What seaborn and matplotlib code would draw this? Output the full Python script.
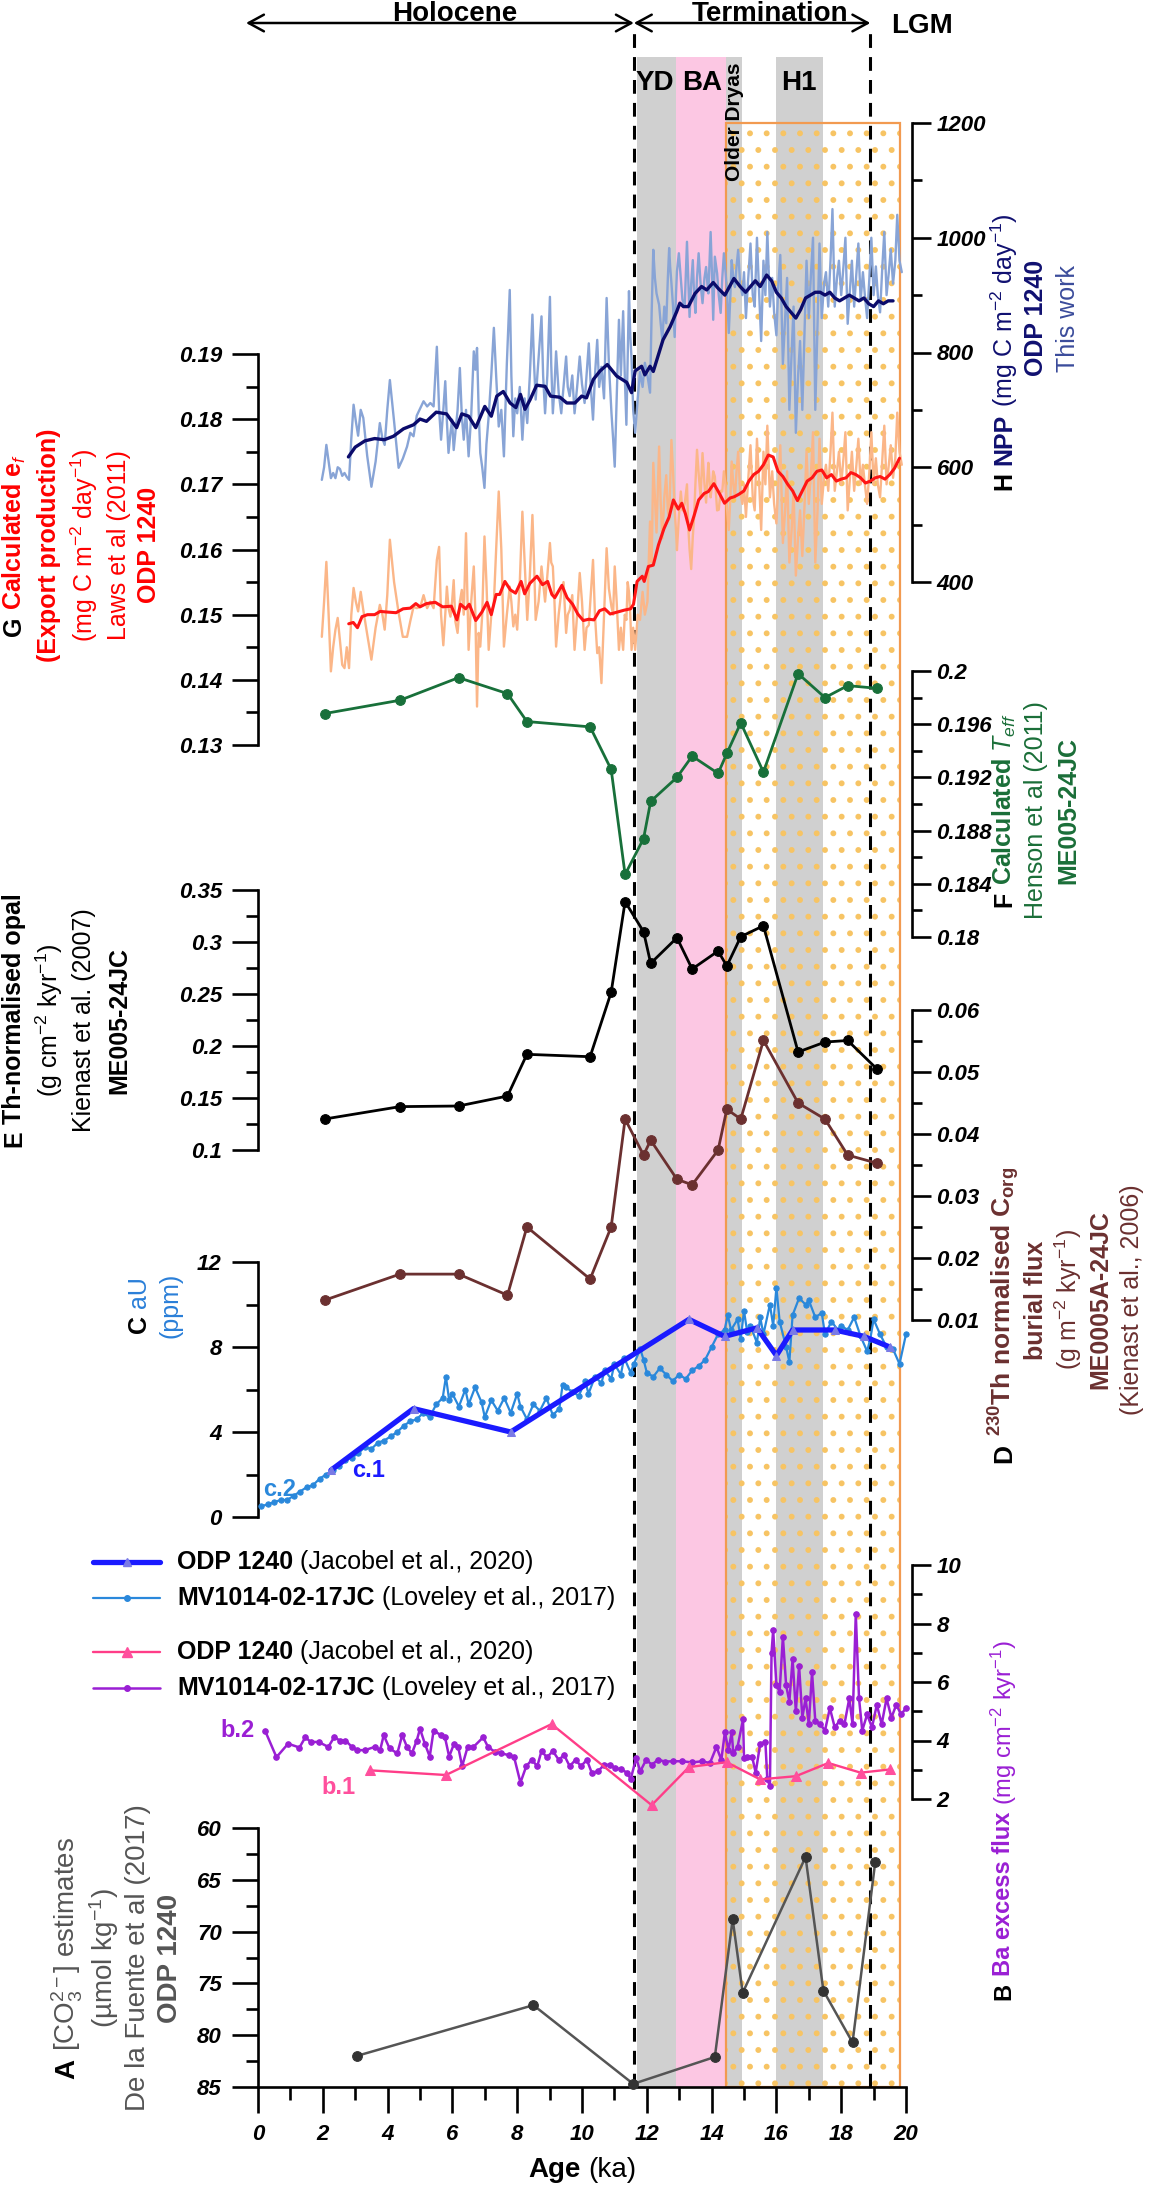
import matplotlib
matplotlib.use('Agg')
import matplotlib.pyplot as plt
import seaborn as sns
import numpy as np
from matplotlib.patches import Rectangle
from matplotlib.lines import Line2D

# ---------------- data ----------------
# H  NPP raw (light blue) and G ef raw (orange), same sample ages
raw_age = [1.97, 2.04, 2.11, 2.18, 2.25, 2.32, 2.39, 2.46, 2.53, 2.6,
           2.67, 2.74, 2.81, 2.88, 2.95, 3.02, 3.09, 3.17, 3.25, 3.37,
           3.5, 3.63, 3.76, 3.84, 3.91, 3.99, 4.07, 4.2, 4.34, 4.47,
           4.6, 4.7, 4.8, 4.9, 5.01, 5.11, 5.22, 5.32, 5.42, 5.52,
           5.59, 5.65, 5.72, 5.78, 5.83, 5.88, 5.94, 5.99, 6.04, 6.09,
           6.16, 6.23, 6.29, 6.35, 6.42, 6.5, 6.58, 6.66, 6.71, 6.76,
           6.81, 6.86, 6.92, 6.99, 7.05, 7.12, 7.2, 7.28, 7.35, 7.43,
           7.51, 7.59, 7.68, 7.77, 7.82, 7.88, 7.94, 8.0, 8.08, 8.16,
           8.23, 8.31, 8.39, 8.47, 8.52, 8.57, 8.66, 8.75, 8.8, 8.86,
           8.93, 9.01, 9.05, 9.1, 9.15, 9.2, 9.28, 9.36, 9.43, 9.51,
           9.56, 9.62, 9.7, 9.77, 9.85, 9.93, 10.0, 10.08, 10.14, 10.21,
           10.27, 10.34, 10.4, 10.47, 10.53, 10.6, 10.68, 10.76, 10.83, 10.91,
           10.96, 11.01, 11.07, 11.14, 11.2, 11.27, 11.32, 11.37, 11.41, 11.45,
           11.49, 11.53, 11.58, 11.64, 11.72, 11.79, 11.87, 11.94, 12.02, 12.1,
           12.15, 12.2, 12.25, 12.3, 12.38, 12.43, 12.48, 12.54, 12.6, 12.65,
           12.69, 12.72, 12.76, 12.81, 12.86, 12.9, 12.93, 12.99, 13.05, 13.1,
           13.17, 13.24, 13.28, 13.32, 13.37, 13.42, 13.46, 13.5, 13.55, 13.6,
           13.66, 13.72, 13.78, 13.83, 13.87, 13.9, 13.97, 14.01, 14.05, 14.1,
           14.17, 14.22, 14.28, 14.33, 14.38, 14.43, 14.48, 14.53, 14.58, 14.62,
           14.67, 14.72, 14.77, 14.82, 14.88, 14.95, 15.0, 15.06, 15.12, 15.2,
           15.27, 15.33, 15.4, 15.47, 15.53, 15.6, 15.66, 15.72, 15.8, 15.87,
           15.93, 16.0, 16.06, 16.12, 16.2, 16.27, 16.33, 16.4, 16.47, 16.53,
           16.6, 16.67, 16.73, 16.8, 16.87, 16.93, 17.0, 17.07, 17.13, 17.2,
           17.27, 17.33, 17.4, 17.47, 17.53, 17.6, 17.67, 17.73, 17.8, 17.87,
           17.93, 18.0, 18.07, 18.13, 18.2, 18.27, 18.33, 18.4, 18.47, 18.53,
           18.6, 18.67, 18.73, 18.8, 18.87, 18.93, 19.0, 19.07, 19.13, 19.2,
           19.27, 19.33, 19.4, 19.47, 19.53, 19.6, 19.67, 19.73, 19.8, 19.87]
npp_raw = [578, 600, 639, 610, 581, 590, 581, 600, 597, 585,
           590, 583, 578, 650, 709, 680, 655, 700, 686, 620,
           566, 610, 677, 650, 639, 700, 752, 680, 599, 615,
           636, 660, 654, 690, 703, 715, 706, 712, 706, 810,
           700, 648, 700, 750, 680, 625, 660, 683, 630, 660,
           700, 773, 690, 648, 700, 619, 690, 802, 770, 808,
           700, 625, 600, 564, 640, 689, 760, 843, 760, 671,
           700, 619, 780, 909, 760, 654, 720, 694, 740, 648,
           720, 677, 760, 866, 780, 718, 790, 863, 760, 694,
           760, 897, 780, 694, 740, 802, 730, 694, 740, 793,
           740, 724, 760, 694, 740, 793, 745, 712, 760, 816,
           740, 683, 760, 822, 740, 775, 720, 895, 780, 694,
           650, 601, 720, 857, 760, 872, 760, 674, 790, 907,
           830, 787, 700, 660, 720, 766, 740, 782, 760, 730,
           870, 979, 930, 903, 883, 850, 822, 880, 851, 930,
           982, 950, 921, 880, 827, 900, 941, 973, 930, 892,
           880, 993, 930, 862, 920, 961, 900, 869, 930, 973,
           920, 886, 930, 949, 920, 903, 1010, 940, 857, 967,
           938, 900, 869, 930, 973, 940, 903, 834, 900, 961,
           930, 914, 950, 979, 920, 900, 940, 860, 920, 990,
           900, 880, 1000, 900, 820, 960, 900, 1010, 880, 930,
           870, 830, 920, 970, 780, 860, 930, 700, 800, 880,
           660, 760, 820, 700, 840, 960, 860, 940, 1000, 700,
           850, 990, 860, 920, 940, 880, 960, 1050, 880, 930,
           960, 900, 950, 1000, 850, 910, 960, 880, 940, 990,
           890, 940, 900, 860, 930, 1000, 900, 950, 900, 870,
           950, 1010, 900, 940, 980, 920, 960, 1040, 960, 940]
ef_raw = [0.1466, 0.152, 0.1581, 0.150, 0.1413, 0.145, 0.1477, 0.1495, 0.146, 0.1423,
          0.1418, 0.145, 0.1418, 0.150, 0.1541, 0.152, 0.1505, 0.1535, 0.1507, 0.147,
          0.1431, 0.148, 0.1515, 0.150, 0.1477, 0.153, 0.1615, 0.155, 0.1503, 0.1466,
          0.1466, 0.149, 0.1512, 0.151, 0.1512, 0.153, 0.151, 0.152, 0.151, 0.1584,
          0.1604, 0.150, 0.1453, 0.150, 0.1543, 0.151, 0.1497, 0.152, 0.1553, 0.149,
          0.1472, 0.152, 0.1538, 0.150, 0.1625, 0.1446, 0.152, 0.1574, 0.150, 0.1359,
          0.1472, 0.1451, 0.150, 0.162, 0.155, 0.1446, 0.150, 0.1518, 0.160, 0.1689,
          0.160, 0.1451, 0.150, 0.1543, 0.152, 0.1482, 0.150, 0.1477, 0.155, 0.1658,
          0.158, 0.1492, 0.156, 0.1653, 0.158, 0.1492, 0.152, 0.1574, 0.155, 0.152,
          0.156, 0.161, 0.158, 0.1574, 0.152, 0.1451, 0.150, 0.1535, 0.155, 0.1472,
          0.150, 0.1507, 0.153, 0.1446, 0.150, 0.1564, 0.152, 0.1446, 0.148, 0.1484,
          0.153, 0.1584, 0.150, 0.1441, 0.145, 0.1395, 0.150, 0.1602, 0.154, 0.1512,
          0.150, 0.1574, 0.152, 0.1446, 0.148, 0.1446, 0.150, 0.1492, 0.155, 0.1535,
          0.150, 0.1446, 0.148, 0.1446, 0.150, 0.1492, 0.1535, 0.150, 0.152, 0.1643,
          0.158, 0.1733, 0.168, 0.1626, 0.1758, 0.167, 0.1617, 0.168, 0.1714, 0.166,
          0.1646, 0.170, 0.1768, 0.172, 0.1661, 0.163, 0.1599, 0.165, 0.1689, 0.166,
          0.167, 0.170, 0.1635, 0.160, 0.157, 0.162, 0.165, 0.170, 0.1753, 0.1717,
          0.168, 0.1748, 0.170, 0.1672, 0.171, 0.1733, 0.168, 0.1698, 0.172, 0.1712,
          0.166, 0.1661, 0.169, 0.1689, 0.172, 0.170, 0.166, 0.163, 0.168, 0.1735,
          0.170, 0.168, 0.172, 0.175, 0.169, 0.167, 0.170, 0.165, 0.170, 0.176,
          0.168, 0.166, 0.177, 0.170, 0.163, 0.175, 0.170, 0.179, 0.168, 0.172,
          0.167, 0.164, 0.170, 0.176, 0.161, 0.166, 0.172, 0.158, 0.163, 0.169,
          0.156, 0.162, 0.166, 0.159, 0.167, 0.175, 0.167, 0.172, 0.178, 0.158,
          0.166, 0.177, 0.167, 0.171, 0.173, 0.169, 0.175, 0.181, 0.169, 0.172,
          0.175, 0.170, 0.174, 0.178, 0.166, 0.171, 0.175, 0.169, 0.173, 0.177,
          0.170, 0.173, 0.170, 0.167, 0.172, 0.178, 0.170, 0.174, 0.170, 0.168,
          0.174, 0.179, 0.170, 0.173, 0.176, 0.171, 0.174, 0.181, 0.175, 0.173]

npp_smooth_age = [2.79, 3.0, 3.3, 3.6, 3.9, 4.18, 4.49, 4.8, 5.0, 5.2,
                  5.5, 5.82, 6.13, 6.29, 6.5, 6.72, 7.0, 7.2, 7.37, 7.57,
                  7.78, 7.96, 8.1, 8.24, 8.4, 8.6, 8.86, 9.03, 9.32, 9.53,
                  9.78, 9.99, 10.14, 10.35, 10.56, 10.78, 11.07, 11.38, 11.53, 11.64,
                  11.84, 11.94, 12.1, 12.2, 12.5, 12.72, 12.92, 13.02, 13.13, 13.28,
                  13.49, 13.69, 13.85, 14.05, 14.2, 14.41, 14.69, 14.88, 15.05, 15.2,
                  15.35, 15.5, 15.7, 15.85, 16.0, 16.15, 16.3, 16.45, 16.6, 16.75,
                  16.9, 17.05, 17.2, 17.35, 17.5, 17.65, 17.8, 17.95, 18.1, 18.25,
                  18.4, 18.55, 18.7, 18.85, 19.0, 19.15, 19.3, 19.45, 19.6]
npp_smooth = [618, 635, 646, 650, 648, 654, 667, 674, 684, 680,
              696, 693, 669, 693, 689, 669, 706, 689, 724, 732,
              712, 704, 727, 701, 718, 743, 741, 724, 722, 712,
              712, 724, 721, 753, 768, 779, 759, 748, 730, 768,
              776, 761, 776, 767, 822, 845, 871, 886, 880, 880,
              903, 915, 909, 922, 912, 900, 929, 915, 905, 915,
              925, 915, 935, 925, 905, 895, 880, 870, 860, 875,
              895, 900, 905, 905, 900, 905, 895, 890, 895, 900,
              895, 890, 895, 885, 880, 890, 885, 890, 890]

ef_smooth_age = [2.8, 2.94, 3.07, 3.21, 3.38, 3.6, 3.77, 3.99, 4.26, 4.48,
                 4.7, 4.87, 5.0, 5.2, 5.47, 5.7, 5.97, 6.14, 6.25, 6.41,
                 6.52, 6.72, 6.91, 7.07, 7.2, 7.35, 7.46, 7.62, 7.79, 7.95,
                 8.12, 8.23, 8.39, 8.61, 8.78, 8.94, 9.07, 9.16, 9.38, 9.54,
                 9.71, 9.87, 10.04, 10.21, 10.37, 10.54, 10.7, 10.87, 11.09, 11.31,
                 11.5, 11.59, 11.7, 11.86, 11.92, 12.05, 12.2, 12.36, 12.53, 12.69,
                 12.82, 12.97, 13.08, 13.19, 13.32, 13.46, 13.6, 13.77, 13.9, 14.07,
                 14.24, 14.4, 14.57, 14.7, 14.85, 15.0, 15.15, 15.3, 15.45, 15.6,
                 15.75, 15.9, 16.05, 16.2, 16.35, 16.5, 16.65, 16.8, 16.95, 17.1,
                 17.25, 17.4, 17.55, 17.7, 17.85, 18.0, 18.15, 18.3, 18.45, 18.6,
                 18.75, 18.9, 19.05, 19.2, 19.35, 19.5, 19.65, 19.8]
ef_smooth = [0.1486, 0.1488, 0.1480, 0.1497, 0.1500, 0.1500, 0.1505, 0.1504, 0.1503, 0.1509,
             0.1510, 0.1517, 0.1512, 0.1517, 0.1519, 0.1512, 0.1513, 0.1492, 0.1516, 0.1509,
             0.1516, 0.1491, 0.1504, 0.1519, 0.1500, 0.1531, 0.1531, 0.1551, 0.1538, 0.1533,
             0.1551, 0.1532, 0.1548, 0.1559, 0.1546, 0.1551, 0.1531, 0.1526, 0.1545, 0.1526,
             0.1516, 0.1501, 0.1491, 0.1493, 0.1492, 0.1506, 0.1509, 0.1501, 0.1504, 0.1507,
             0.1509, 0.1516, 0.1551, 0.1559, 0.1551, 0.1574, 0.1576, 0.1607, 0.1632, 0.1650,
             0.1676, 0.1662, 0.1671, 0.1655, 0.1630, 0.1652, 0.1676, 0.1686, 0.1689, 0.1701,
             0.1686, 0.1671, 0.1679, 0.1681, 0.1685, 0.1690, 0.1705, 0.1715, 0.1720, 0.1730,
             0.1745, 0.1742, 0.1720, 0.1712, 0.1700, 0.1690, 0.1675, 0.1690, 0.1705, 0.1710,
             0.1720, 0.1722, 0.1710, 0.1715, 0.1705, 0.1708, 0.1710, 0.1718, 0.1715, 0.1710,
             0.1702, 0.1705, 0.1710, 0.1712, 0.1708, 0.1715, 0.1725, 0.1740]

# ME005-24JC / ME0005A-24JC (F, E, D)
me_age = [2.06, 4.38, 6.19, 7.7, 8.3, 10.25, 10.9, 11.33, 11.9, 12.12,
          12.93, 13.4, 14.2, 14.47, 14.9, 15.6, 16.67, 17.5, 18.2, 19.1]
teff = [0.1968, 0.1978, 0.1995, 0.1983, 0.1962, 0.1958, 0.1926, 0.1847, 0.1874, 0.1902,
        0.1920, 0.1936, 0.1923, 0.1938, 0.1961, 0.1924, 0.1998, 0.1980, 0.1989, 0.1987]
opal = [0.1298, 0.1417, 0.1423, 0.1519, 0.1920, 0.1897, 0.2516, 0.3388, 0.3099, 0.2795,
        0.3041, 0.2740, 0.2913, 0.2769, 0.3051, 0.3156, 0.1942, 0.2038, 0.2053, 0.1780]
corg = [0.0132, 0.0174, 0.0174, 0.0140, 0.0250, 0.0166, 0.0250, 0.0424, 0.0366, 0.0390,
        0.0327, 0.0318, 0.0374, 0.0440, 0.0424, 0.0551, 0.0450, 0.0424, 0.0366, 0.0353]

# C  authigenic U
au_odp_age = [2.25, 4.8, 7.8, 13.3, 14.4, 15.4, 16.0, 16.5, 17.8, 18.7, 19.5]
au_odp = [2.2, 5.1, 4.0, 9.3, 8.5, 8.9, 7.6, 8.8, 8.8, 8.5, 8.0]
au_mv_age = [0.1, 0.3, 0.5, 0.7, 0.9, 1.1, 1.3, 1.5, 1.7, 1.9,
             2.1, 2.3, 2.5, 2.7, 2.9, 3.1, 3.3, 3.5, 3.7, 3.9,
             4.1, 4.3, 4.5, 4.7, 4.9, 5.1, 5.3, 5.5, 5.7, 5.8,
             5.9, 6.0, 6.2, 6.4, 6.5, 6.7, 6.9, 7.0, 7.2, 7.4,
             7.6, 7.8, 8.0, 8.1, 8.3, 8.5, 8.7, 8.9, 9.1, 9.3,
             9.4, 9.5, 9.7, 9.9, 10.1, 10.2, 10.4, 10.6, 10.7, 10.9,
             11.0, 11.2, 11.3, 11.5, 11.6, 11.8, 11.9, 12.0, 12.2, 12.4,
             12.6, 12.8, 13.0, 13.2, 13.4, 13.6, 13.8, 14.0, 14.2, 14.4,
             14.5, 14.6, 14.8, 14.9, 15.0, 15.1, 15.2, 15.4, 15.5, 15.6,
             15.8, 15.9, 16.0, 16.1, 16.3, 16.4, 16.5, 16.7, 16.9, 17.0,
             17.2, 17.4, 17.5, 17.7, 17.9, 18.0, 18.2, 18.4, 18.6, 18.8,
             18.9, 19.0, 19.2, 19.4, 19.6, 19.8, 20.0]
au_mv = [0.5, 0.6, 0.7, 0.8, 0.8, 1.0, 1.2, 1.4, 1.5, 1.8,
         2.0, 2.2, 2.4, 2.7, 2.8, 3.0, 3.3, 3.2, 3.5, 3.6,
         3.8, 4.0, 4.3, 4.5, 4.6, 4.9, 4.7, 5.3, 5.6, 6.6,
         5.5, 5.8, 5.2, 6.0, 5.3, 6.1, 5.4, 4.7, 5.5, 5.0,
         5.6, 4.9, 5.8, 5.2, 4.6, 5.3, 5.0, 5.6, 4.8, 5.1,
         6.2, 6.1, 5.9, 5.7, 6.4, 5.8, 6.6, 6.3, 6.9, 6.5,
         7.2, 6.7, 7.5, 6.8, 7.2, 7.9, 7.4, 6.8, 6.6, 7.0,
         6.7, 6.4, 6.7, 6.5, 6.9, 7.1, 7.4, 8.0, 8.6, 8.8,
         9.5, 8.8, 9.3, 8.4, 9.7, 8.7, 9.0, 8.2, 9.4, 8.6,
         10.0, 9.0, 10.8, 9.2, 8.0, 7.3, 9.5, 10.3, 10.0, 10.2,
         9.4, 9.6, 8.6, 9.2, 8.8, 9.0, 8.8, 9.4, 8.5, 7.8,
         8.4, 9.3, 8.6, 8.0, 7.9, 7.2, 8.6]

# B  Ba excess flux
ba_odp_age = [3.46, 5.8, 9.06, 12.15, 13.3, 14.46, 15.5, 16.6, 17.6, 18.6, 19.5]
ba_odp = [2.98, 2.82, 4.56, 1.79, 3.09, 3.26, 2.67, 2.78, 3.23, 2.9, 3.01]
ba_mv_age = [0.22, 0.57, 0.93, 1.28, 1.46, 1.63, 1.87, 2.17, 2.35, 2.53,
             2.7, 2.9, 3.07, 3.3, 3.6, 3.77, 3.88, 4.06, 4.3, 4.45,
             4.6, 4.75, 4.9, 5.0, 5.15, 5.3, 5.42, 5.65, 5.77, 5.9,
             6.05, 6.18, 6.3, 6.47, 6.65, 6.95, 7.1, 7.3, 7.5, 7.75,
             7.9, 8.1, 8.28, 8.45, 8.62, 8.75, 8.92, 9.1, 9.28, 9.45,
             9.62, 9.8, 9.97, 10.15, 10.3, 10.5, 10.68, 10.85, 11.03, 11.2,
             11.4, 11.5, 11.67, 11.8, 11.98, 12.16, 12.34, 12.57, 12.8, 13.1,
             13.4, 13.7, 13.95, 14.15, 14.3, 14.41, 14.52, 14.62, 14.67, 14.8,
             14.97, 15.0, 15.1, 15.25, 15.36, 15.5, 15.66, 15.72, 15.8, 15.85,
             15.9, 16.0, 16.1, 16.2, 16.3, 16.4, 16.5, 16.6, 16.7, 16.8,
             16.9, 17.0, 17.1, 17.2, 17.35, 17.5, 17.65, 17.8, 17.95, 18.1,
             18.25, 18.35, 18.45, 18.55, 18.65, 18.8, 18.95, 19.1, 19.25, 19.4,
             19.55, 19.7, 19.85, 20.0]
ba_mv = [4.33, 3.43, 3.89, 3.76, 4.11, 3.95, 3.95, 3.78, 4.11, 4.0,
         4.0, 3.78, 3.67, 3.67, 3.78, 3.67, 4.18, 3.73, 3.56, 4.18,
         3.78, 3.56, 4.0, 4.40, 3.89, 3.45, 4.34, 4.18, 4.11, 3.45,
         3.89, 3.78, 3.12, 3.78, 3.78, 4.11, 3.78, 3.62, 3.56, 3.50,
         3.45, 2.56, 3.12, 3.34, 3.12, 3.64, 3.42, 3.64, 3.34, 3.50,
         3.12, 3.34, 3.12, 3.34, 2.90, 2.95, 3.17, 3.17, 3.06, 3.01,
         2.90, 2.67, 3.39, 2.95, 3.34, 3.17, 3.34, 3.28, 3.29, 3.29,
         3.25, 3.29, 3.23, 3.78, 3.34, 4.28, 3.67, 4.28, 3.56, 3.78,
         4.72, 3.39, 3.45, 3.45, 2.90, 3.89, 3.95, 2.67, 2.45, 7.0,
         7.77, 5.89, 5.67, 7.55, 5.89, 5.33, 6.78, 5.0, 6.55, 4.78,
         5.44, 4.56, 6.33, 4.67, 4.56, 4.34, 5.11, 4.45, 4.67, 4.56,
         5.44, 4.56, 8.33, 5.44, 4.34, 4.89, 4.45, 5.22, 4.56, 5.44,
         4.78, 5.22, 4.89, 5.11]

# A  carbonate ion
co3_age = [3.05, 8.5, 11.58, 14.1, 14.65, 14.96, 16.9, 17.45, 18.35, 19.05]
co3 = [82.0, 77.1, 84.7, 82.1, 68.8, 75.9, 62.8, 75.7, 80.7, 63.3]

# climate intervals (ka)
grey_bands = [(11.7, 12.9), (14.45, 14.95), (16.0, 17.45)]
ba_band = (12.9, 14.45)
dotted_box = (14.45, 19.8)
holo_bound, lgm_bound, holo_start = 11.6, 18.9, -0.37

# ---------------- style ----------------
sns.set_style('ticks', rc={'axes.edgecolor': 'black', 'xtick.color': 'black',
                           'ytick.color': 'black', 'text.color': 'black'})
plt.rcParams['font.family'] = ['Liberation Sans', 'DejaVu Sans']
plt.rcParams['mathtext.fontset'] = 'custom'
plt.rcParams['mathtext.rm'] = 'Liberation Sans'
plt.rcParams['mathtext.it'] = 'Liberation Sans:italic'
plt.rcParams['mathtext.bf'] = 'Liberation Sans:bold'
plt.rcParams['mathtext.default'] = 'regular'
plt.rcParams['hatch.linewidth'] = 1.8

W, H = 1176, 2186
X0, X20 = 258, 906
BOT = 2087

fig = plt.figure(figsize=(W / 100, H / 100), dpi=100)
rend = fig.canvas.get_renderer()


def fx(px):
    return px / W


def fy(py):
    return 1 - py / H


# background axis: bands, dashed lines, age axis
bg = fig.add_axes([fx(X0), fy(BOT), fx(X20) - fx(X0), fy(57) - fy(BOT)])
for s in ['top', 'left', 'right']:
    bg.spines[s].set_visible(False)
bg.spines['bottom'].set_linewidth(1.9)
bg.set_yticks([])
bg.set_xticks(range(0, 21, 2), labels=[str(v) for v in range(0, 21, 2)],
              fontsize=16, fontweight='bold', fontstyle='italic')
bg.set_xticks(range(1, 20, 2), minor=True)
bg.tick_params(axis='x', which='major', bottom=True, length=19, width=1.9, pad=8, direction='out')
bg.tick_params(axis='x', which='minor', bottom=True, length=9, width=1.9, direction='out')
bg.set_xlim(0, 20)
bg.set_ylim(0, 1)

for a, b in grey_bands:
    bg.axvspan(a, b, color='#d0d0d0', lw=0, zorder=0)
bg.axvspan(*ba_band, color='#fcc7e3', lw=0, zorder=0)
box_top = (BOT - 123) / (BOT - 57)
bg.add_patch(Rectangle((dotted_box[0], 0), dotted_box[1] - dotted_box[0], box_top,
                       facecolor='none', edgecolor='#f7c464', hatch='.', lw=0, zorder=1))
bg.add_patch(Rectangle((dotted_box[0], 0), dotted_box[1] - dotted_box[0], box_top,
                       facecolor='none', edgecolor='#f29a50', lw=1.6, zorder=1))
top_frac = (BOT - 27) / (BOT - 57)
for xv in [holo_bound, lgm_bound]:
    bg.axvline(xv, ymin=0, ymax=top_frac, color='k', lw=2.2, ls=(0, (4.5, 3)),
               clip_on=False, zorder=5)
arr_y = (BOT - 23) / (BOT - 57)
for xa, xb in [(holo_start, holo_bound), (holo_bound, lgm_bound)]:
    bg.annotate('', xy=(xa, arr_y), xytext=(xb, arr_y), annotation_clip=False,
                arrowprops=dict(arrowstyle='<->,head_length=0.55,head_width=0.3',
                                lw=1.8, color='k', shrinkA=0, shrinkB=0,
                                mutation_scale=20))


def make_panel(top, bot, ylo, yhi, side, majors, labels, minors):
    ax = fig.add_axes([fx(X0), fy(bot), fx(X20) - fx(X0), fy(top) - fy(bot)])
    ax.patch.set_alpha(0)
    for s in ['top', 'bottom', 'left', 'right']:
        ax.spines[s].set_visible(s == side)
    ax.spines[side].set_linewidth(1.9)
    ax.set_xticks([])
    ax.tick_params(axis='x', bottom=False)
    if side == 'right':
        ax.yaxis.tick_right()
        ax.spines['right'].set_position(('outward', 4))
        major_len, minor_len, pad = 14, 7, 4
    else:
        ax.yaxis.tick_left()
        major_len, minor_len, pad = 19, 9, 7
    ax.set_yticks(majors, labels=labels, fontsize=16, fontweight='bold', fontstyle='italic')
    ax.set_yticks(minors, minor=True)
    ax.tick_params(axis='y', which='major', length=major_len, width=1.9, pad=pad, direction='out')
    ax.tick_params(axis='y', which='minor', length=minor_len, width=1.9, direction='out')
    return ax


def draw(ax, x, y, color, lw, marker=None, ms=0, mc=None, z=3):
    sns.lineplot(x=x, y=y, ax=ax, color=color, linewidth=lw, marker=marker,
                 markersize=ms, markeredgecolor=mc or color, markerfacecolor=mc or color,
                 estimator=None, sort=False, clip_on=False, zorder=z)


# H  NPP
axH = make_panel(123, 582, 400, 1200, 'right', [400, 600, 800, 1000, 1200],
                 ['400', '600', '800', '1000', '1200'], [500, 700, 900, 1100])
draw(axH, raw_age, npp_raw, '#88a4d6', 1.7)
draw(axH, npp_smooth_age, npp_smooth, '#0b0b6b', 2.4, z=4)

# G  ef
g_major = [0.13, 0.14, 0.15, 0.16, 0.17, 0.18, 0.19]
axG = make_panel(354, 745, 0.13, 0.19, 'left', g_major, [f'{v:.2f}' for v in g_major],
                 [0.135, 0.145, 0.155, 0.165, 0.175, 0.185])
draw(axG, raw_age, ef_raw, '#fbb688', 1.7)
draw(axG, ef_smooth_age, ef_smooth, '#ff1515', 2.2, z=4)

# F  Teff
axF = make_panel(671, 937, 0.18, 0.2, 'right', [0.18, 0.184, 0.188, 0.192, 0.196, 0.2],
                 ['0.18', '0.184', '0.188', '0.192', '0.196', '0.2'],
                 [0.182, 0.186, 0.19, 0.194, 0.198])
draw(axF, me_age, teff, '#18703a', 2.0, 'o', 7)

# E  opal
axE = make_panel(890, 1150, 0.1, 0.35, 'left', [0.1, 0.15, 0.2, 0.25, 0.3, 0.35],
                 ['0.1', '0.15', '0.2', '0.25', '0.3', '0.35'],
                 [0.125, 0.175, 0.225, 0.275, 0.325])
draw(axE, me_age, opal, 'black', 2.0, 'o', 7)

# D  Corg
axD = make_panel(1010, 1320, 0.01, 0.06, 'right', [0.01, 0.02, 0.03, 0.04, 0.05, 0.06],
                 ['0.01', '0.02', '0.03', '0.04', '0.05', '0.06'],
                 [0.015, 0.025, 0.035, 0.045, 0.055])
draw(axD, me_age, corg, '#6b3030', 2.0, 'o', 7)

# C  aU
axC = make_panel(1262, 1517, 0, 12, 'left', [0, 4, 8, 12], ['0', '4', '8', '12'], [2, 6, 10])
draw(axC, au_mv_age, au_mv, '#2a88db', 1.6, 'o', 3.8)
draw(axC, au_odp_age, au_odp, '#1a1aff', 3.8, '^', 6, '#7a7ae6', z=4)
axC.text(0.15, 1.3, 'c.2', color='#2a88db', fontsize=17, fontweight='bold', ha='left', va='center')
axC.text(2.9, 2.2, 'c.1', color='#1a1aff', fontsize=17, fontweight='bold', ha='left', va='center')

# B  Ba excess
axB = make_panel(1565, 1799, 2, 10, 'right', [2, 4, 6, 8, 10], ['2', '4', '6', '8', '10'],
                 [3, 5, 7, 9])
draw(axB, ba_mv_age, ba_mv, '#9a1fd4', 1.8, 'o', 4)
draw(axB, ba_odp_age, ba_odp, '#ff3d88', 1.7, '^', 7, '#ff4f9d', z=4)
axB.text(-0.1, 4.35, 'b.2', color='#9a1fd4', fontsize=17, fontweight='bold', ha='right', va='center')
axB.text(2.5, 2.38, 'b.1', color='#ff4f9d', fontsize=17, fontweight='bold', ha='center', va='center')

# A  CO3
axA = make_panel(1828, BOT, 85, 60, 'left', [60, 65, 70, 75, 80, 85],
                 ['60', '65', '70', '75', '80', '85'], [62.5, 67.5, 72.5, 77.5, 82.5])
draw(axA, co3_age, co3, '#555555', 1.8, 'o', 7, '#333333')

for ax, lo, hi in [(axH, 400, 1200), (axG, 0.13, 0.19), (axF, 0.18, 0.2), (axE, 0.1, 0.35),
                   (axD, 0.01, 0.06), (axC, 0, 12), (axB, 2, 10), (axA, 85, 60)]:
    ax.set_xlim(0, 20)
    ax.set_ylim(lo, hi)
    ax.set_xlabel('')
    ax.set_ylabel('')


# ---------------- text ----------------
def rich(x, y, pieces, size=18, rot=90, align='center'):
    objs = [fig.text(0, 0, s, color=c, fontweight=w, fontsize=size, rotation=rot,
                     rotation_mode='anchor', ha='left', va='center') for s, c, w in pieces]
    ext = [t.get_window_extent(renderer=rend) for t in objs]
    lens = [e.height if rot == 90 else e.width for e in ext]
    gap = 0.28 * size * 100 / 72
    total = sum(lens) + gap * (len(objs) - 1)
    pos = -total / 2 if align == 'center' else 0
    for t, L in zip(objs, lens):
        if rot == 90:
            t.set_position((fx(x), fy(y - pos)))
        else:
            t.set_position((fx(x + pos), fy(y)))
        pos += L + gap


K = 'black'
RED, GRN, BRN, PUR, BLU, GRY, NAV = '#ff0000', '#1a6e38', '#6b3030', '#9a1fd4', '#2a7fd8', '#555555', '#101070'
B, N = 'bold', 'normal'

# left labels
rich(14, 545, [('G', K, B), (r'Calculated e$_{\mathit{f}}$', RED, B)])
rich(49, 545, [('(Export production)', RED, B)])
rich(84, 545, [(r'(mg C m$^{-2}$ day$^{-1}$)', RED, N)])
rich(119, 545, [('Laws et al (2011)', RED, N)])
rich(149, 545, [('ODP 1240', RED, B)])

rich(14, 1020, [('E', K, B), ('Th-normalised opal', K, B)])
rich(49, 1020, [(r'(g cm$^{-2}$ kyr$^{-1}$)', K, N)])
rich(84, 1020, [('Kienast et al. (2007)', K, N)])
rich(119, 1020, [('ME005-24JC', K, B)])

rich(139, 1305, [('C', K, B), ('aU', BLU, N)])
rich(170, 1305, [('(ppm)', BLU, N)])

rich(67, 1958, [('A', K, B), (r'[CO$_3^{2-}$] estimates', GRY, N)], size=20)
rich(104, 1958, [('(µmol kg$^{-1}$)', GRY, N)], size=20)
rich(138, 1958, [('De la Fuente et al (2017)', GRY, N)], size=20)
rich(170, 1958, [('ODP 1240', GRY, B)], size=20)

# right labels
RX = [1004, 1036, 1068, 1100, 1132]
rich(RX[0], 352, [('H', K, B), ('NPP', NAV, B), (r'(mg C m$^{-2}$ day$^{-1}$)', NAV, N)])
rich(RX[1], 318, [('ODP 1240', NAV, B)])
rich(RX[2], 318, [('This work', '#3b4c9b', N)])

rich(RX[0], 810, [('F', K, B), (r'Calculated $\mathit{T}_{\mathit{eff}}$', GRN, B)])
rich(RX[1], 810, [('Henson et al (2011)', GRN, N)])
rich(RX[2], 810, [('ME005-24JC', GRN, B)])

rich(RX[0], 1315, [('D', K, B), (r'$^{230}$Th normalised C$_{org}$', BRN, B)], size=19)
rich(RX[1], 1300, [('burial flux', BRN, B)])
rich(RX[2], 1300, [(r'(g m$^{-2}$ kyr$^{-1}$)', BRN, N)])
rich(RX[3], 1300, [('ME0005A-24JC', BRN, B)])
rich(RX[4], 1300, [('(Kienast et al., 2006)', BRN, N)])

rich(RX[0], 1820, [('B', K, B), ('Ba excess flux', PUR, B),
                   (r'(mg cm$^{-2}$ kyr$^{-1}$)', PUR, N)], size=17)

# legends
leg_rows = [(1562, '#1a1aff', 3.8, '^', '#7a7ae6', 6, 'ODP 1240', '(Jacobel et al., 2020)'),
            (1598, '#2a88db', 1.6, 'o', '#2a88db', 4, 'MV1014-02-17JC', '(Loveley et al., 2017)'),
            (1652, '#ff3d88', 1.7, '^', '#ff4f9d', 7, 'ODP 1240', '(Jacobel et al., 2020)'),
            (1688, '#9a1fd4', 1.8, 'o', '#9a1fd4', 4, 'MV1014-02-17JC', '(Loveley et al., 2017)')]
for yy, c, lw, m, mc, ms, bold_t, reg_t in leg_rows:
    fig.add_artist(Line2D([fx(93), fx(160)], [fy(yy), fy(yy)], color=c, lw=lw))
    fig.add_artist(Line2D([fx(127)], [fy(yy)], marker=m, color=mc, ms=ms, ls='none'))
    rich(177, yy, [(bold_t, K, B), (reg_t, K, N)], size=18, rot=0, align='left')

# top annotations
fig.text(fx(455), fy(21), 'Holocene', ha='center', va='baseline', fontsize=20, fontweight='bold')
fig.text(fx(770), fy(21), 'Termination', ha='center', va='baseline', fontsize=20, fontweight='bold')
fig.text(fx(922), fy(33), 'LGM', ha='center', va='baseline', fontsize=20, fontweight='bold')
for txt, xp in [('YD', 655), ('BA', 702), ('H1', 799)]:
    fig.text(fx(xp), fy(83), txt, ha='center', va='center', fontsize=20, fontweight='bold')
fig.text(fx(734), fy(122), 'Older Dryas', ha='center', va='center', rotation=90,
         fontsize=15, fontweight='bold')

rich(582, 2170, [('Age', K, B), ('(ka)', K, N)], size=20, rot=0)

fig.savefig('out.png', dpi=100)
